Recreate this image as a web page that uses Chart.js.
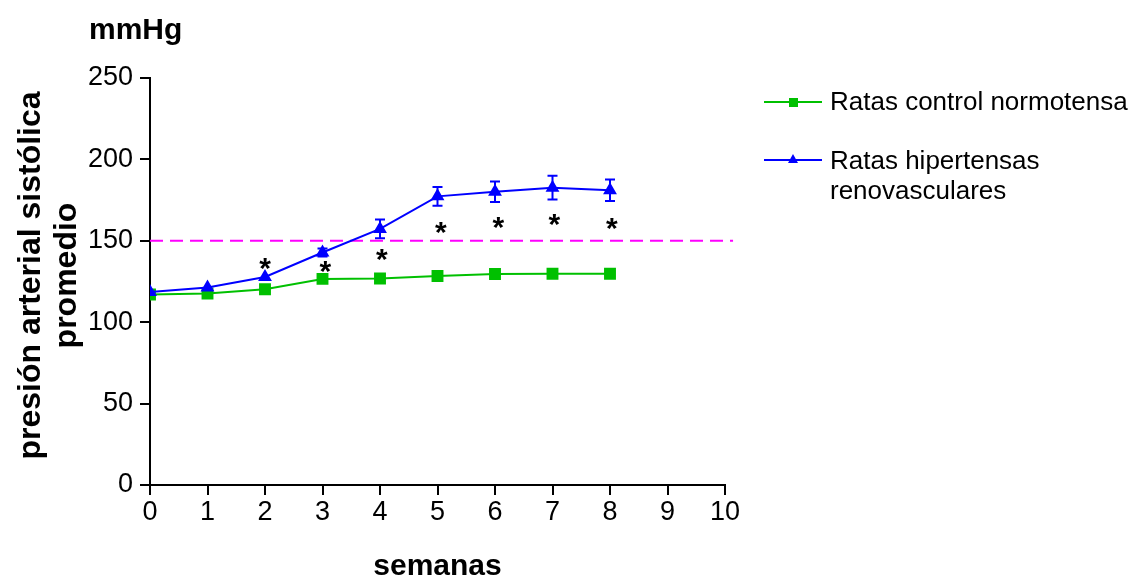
<!DOCTYPE html>
<html lang="es">
<head>
    <meta charset="UTF-8">
    <title>Presión arterial sistólica</title>
    <script src="https://cdn.jsdelivr.net/npm/chart.js"></script>
    <style>
        body { margin: 0; background: #fff; }
        #grafico { width: 1143px; height: 580px; }
    </style>
</head>
<body>
    <div id="grafico">
        <canvas id="myChartCanvas" width="1143" height="580"></canvas>
    </div>

<script>
    // datos
    const semanas = [0, 1, 2, 3, 4, 5, 6, 7, 8];
    const control = [117, 117.6, 120.2, 126.6, 126.8, 128.4, 129.6, 129.8, 129.8];
    const hipertensas = [118.6, 121.3, 127.8, 142.8, 157.3, 177.3, 180.2, 182.6, 181];
    const errorHipertensas = [0, 0, 0, 2.5, 5.8, 5.7, 6.3, 7.3, 6.6];
    const asteriscoX = [2, 3.05, 4.03, 5.06, 6.06, 7.03, 8.03];
    const asteriscoY = [135.4, 133.3, 140.7, 157, 160.1, 162.2, 159.5];
    const umbral = 150;
    const ticksX = [0, 1, 2, 3, 4, 5, 6, 7, 8, 9, 10];
    const ticksY = [0, 50, 100, 150, 200, 250];

    const fuente = '"Liberation Sans", Arial, sans-serif';
    const verde = '#00c000';
    const azul = '#0000ff';

    // dibuja titulos, leyenda, barras de error y asteriscos
    const extras = {
        id: 'extras',
        beforeDatasetsDraw(chart) {
            const ctx = chart.ctx;
            const x = chart.scales.x, y = chart.scales.y;
            ctx.save();
            ctx.strokeStyle = azul;
            ctx.lineWidth = 2;
            semanas.forEach(function (s, i) {
                const e = errorHipertensas[i];
                if (!e) return;
                const px = x.getPixelForValue(s);
                const top = y.getPixelForValue(hipertensas[i] + e);
                const bot = y.getPixelForValue(hipertensas[i] - e);
                ctx.beginPath();
                ctx.moveTo(px, top); ctx.lineTo(px, bot);
                ctx.moveTo(px - 5, top); ctx.lineTo(px + 5, top);
                ctx.moveTo(px - 5, bot); ctx.lineTo(px + 5, bot);
                ctx.stroke();
            });
            ctx.restore();
        },
        afterDraw(chart) {
            const ctx = chart.ctx;
            const x = chart.scales.x, y = chart.scales.y;
            ctx.save();
            ctx.fillStyle = '#000';

            // asteriscos
            ctx.font = 'bold 30px ' + fuente;
            ctx.textAlign = 'center';
            ctx.textBaseline = 'alphabetic';
            asteriscoX.forEach(function (v, i) {
                ctx.fillText('*', x.getPixelForValue(v), y.getPixelForValue(asteriscoY[i]) + 13);
            });

            // titulos
            ctx.font = 'bold 30px ' + fuente;
            ctx.textAlign = 'left';
            ctx.fillText('mmHg', 89, 39);
            ctx.textAlign = 'center';
            ctx.fillText('semanas', (chart.chartArea.left + chart.chartArea.right) / 2, 575);

            ctx.save();
            ctx.font = 'bold 32px ' + fuente;
            ctx.translate(0, (chart.chartArea.top + chart.chartArea.bottom) / 2 - 6);
            ctx.rotate(-Math.PI / 2);
            ctx.textBaseline = 'middle';
            ctx.fillText('presión arterial sistólica', 0, 31);
            ctx.fillText('promedio', 0, 67);
            ctx.restore();

            // leyenda
            ctx.lineWidth = 2;
            ctx.strokeStyle = verde;
            ctx.beginPath(); ctx.moveTo(764, 102); ctx.lineTo(822, 102); ctx.stroke();
            ctx.fillStyle = verde;
            ctx.fillRect(789, 98, 9, 9);
            ctx.strokeStyle = azul;
            ctx.beginPath(); ctx.moveTo(764, 160); ctx.lineTo(822, 160); ctx.stroke();
            ctx.fillStyle = azul;
            ctx.beginPath(); ctx.moveTo(793, 154); ctx.lineTo(798, 163); ctx.lineTo(788, 163); ctx.closePath(); ctx.fill();

            ctx.fillStyle = '#000';
            ctx.font = '26px ' + fuente;
            ctx.textAlign = 'left';
            ctx.textBaseline = 'middle';
            ctx.fillText('Ratas control normotensa', 830, 103);
            ctx.fillText('Ratas hipertensas', 830, 162);
            ctx.fillText('renovasculares', 830, 192);
            ctx.restore();
        }
    };

    const dados = {
        datasets: [{
            label: 'Ratas control normotensa',
            data: semanas.map((s, i) => ({ x: s, y: control[i] })),
            borderColor: verde,
            backgroundColor: verde,
            borderWidth: 2,
            pointStyle: 'rect',
            pointRadius: 7,
            showLine: true,
            order: 2
        },
        {
            label: 'Ratas hipertensas renovasculares',
            data: semanas.map((s, i) => ({ x: s, y: hipertensas[i] })),
            borderColor: azul,
            backgroundColor: azul,
            borderWidth: 2,
            pointStyle: 'triangle',
            pointRadius: 6,
            showLine: true,
            order: 1
        },
        {
            label: 'umbral',
            data: [{ x: 0, y: umbral }, { x: 10.14, y: umbral }],
            borderColor: '#ff00ff',
            borderWidth: 2,
            borderDash: [13, 7],
            pointRadius: 0,
            showLine: true,
            clip: false,
            order: 3
        }]
    };

    const config = {
        type: 'scatter',
        data: dados,
        options: {
            responsive: false,
            animation: false,
            layout: {
                padding: { left: 0, top: 78, right: 418, bottom: 0 }
            },
            plugins: {
                legend: { display: false },
                tooltip: { enabled: false }
            },
            scales: {
                x: {
                    type: 'linear',
                    min: 0,
                    max: 10,
                    afterFit: function (scale) { scale.height = 95; },
                    afterBuildTicks: function (scale) { scale.ticks = ticksX.map(v => ({ value: v })); },
                    ticks: { color: '#000', font: { family: fuente, size: 27 }, padding: 1, maxRotation: 0 },
                    grid: { drawOnChartArea: false, tickLength: 10, color: '#000', tickColor: '#000', lineWidth: 2 },
                    border: { color: '#000', width: 2 }
                },
                y: {
                    min: 0,
                    max: 250,
                    afterFit: function (scale) { scale.width = 150; },
                    afterBuildTicks: function (scale) { scale.ticks = ticksY.map(v => ({ value: v })); },
                    ticks: { color: '#000', font: { family: fuente, size: 27 }, padding: 7 },
                    grid: { drawOnChartArea: false, tickLength: 10, color: '#000', tickColor: '#000', lineWidth: 2 },
                    border: { color: '#000', width: 2 }
                }
            }
        },
        plugins: [extras]
    };

    let myChart = new Chart(document.getElementById('myChartCanvas'), config);
</script>
</body>
</html>
